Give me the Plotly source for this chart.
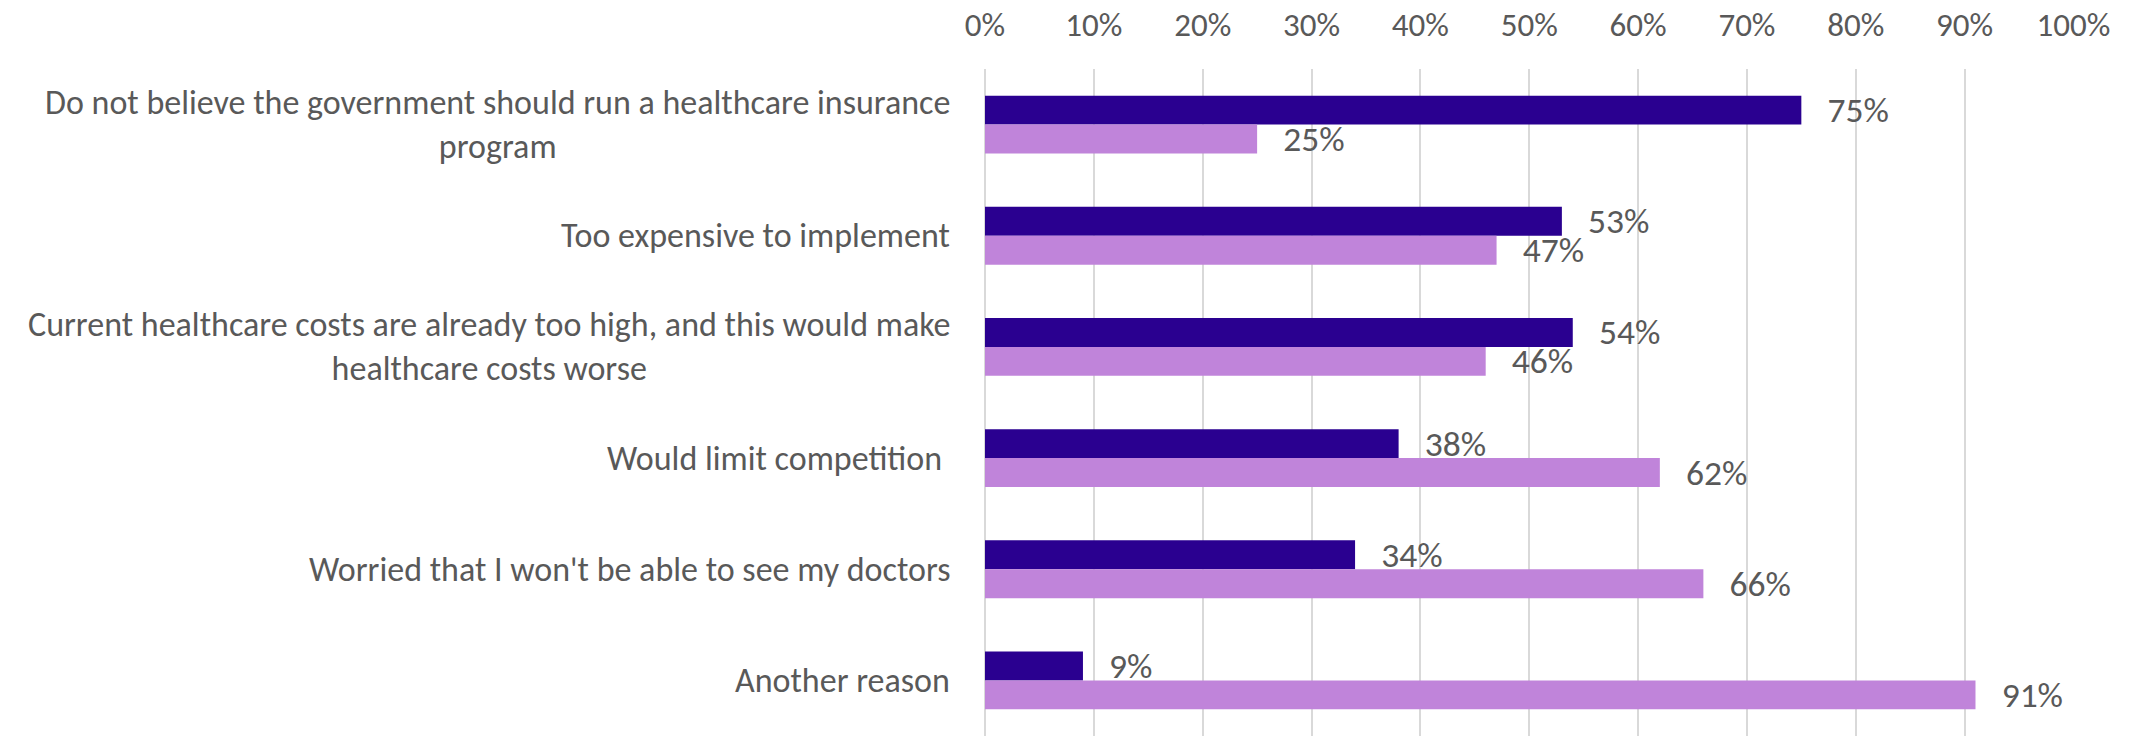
import plotly.graph_objects as go

categories = [
    "Do not believe the government should run a healthcare insurance<br>program",
    "Too expensive to implement",
    "Current healthcare costs are already too high, and this would make<br>healthcare costs worse",
    "Would limit competition ",
    "Worried that I won't be able to see my doctors",
    "Another reason",
]
series_a = [75, 53, 54, 38, 34, 9]
series_b = [25, 47, 46, 62, 66, 91]
tick_vals = [0, 10, 20, 30, 40, 50, 60, 70, 80, 90, 100]
tick_text = [f"{v}%" for v in tick_vals]

FONT = "Calibri, Carlito, 'Open Sans', sans-serif"
GREY = "#595959"

fig = go.Figure()
for vals, color in [(series_a, "#2A0090"), (series_b, "#C084DA")]:
    fig.add_trace(go.Bar(
        y=categories, x=vals, orientation="h",
        marker=dict(color=color, line=dict(width=0)),
        texttemplate="\u00a0\u00a0\u2009%{x}%", textposition="outside",
        textfont=dict(family=FONT, size=35.5, color=GREY),
        cliponaxis=False, constraintext="none",
    ))

for c in categories:
    fig.add_annotation(
        x=0, xref="paper", y=c, yref="y", xanchor="right", xshift=-33,
        text=c, showarrow=False, align="center",
        font=dict(family=FONT, size=34, color=GREY),
    )

fig.update_layout(
    width=2141, height=736,
    margin=dict(l=985, r=67, t=69, b=0),
    paper_bgcolor="white", plot_bgcolor="white",
    barmode="group", bargap=0.48, bargroupgap=0,
    showlegend=False,
    font=dict(family=FONT, size=33, color=GREY),
)
fig.update_xaxes(
    side="top", range=[0, 100.05], tickvals=tick_vals, ticktext=tick_text,
    showgrid=True, gridcolor="#D9D9D9", gridwidth=2,
    zeroline=True, zerolinecolor="#D9D9D9", zerolinewidth=2,
    ticklabelstandoff=25, showline=False, automargin=False,
    tickfont=dict(family=FONT, size=33, color=GREY),
)
fig.update_yaxes(
    autorange="reversed", showticklabels=False, showgrid=False,
    zeroline=False, showline=False, automargin=False,
)

fig.write_html(
    "out.html",
    config={"displayModeBar": False},
    post_script="document.body.style.margin='0';",
)
